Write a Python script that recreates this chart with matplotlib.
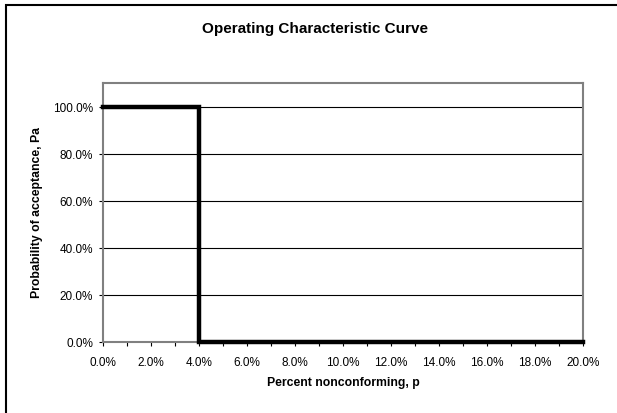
import matplotlib
matplotlib.use("Agg")
import matplotlib.pyplot as plt
from matplotlib.ticker import PercentFormatter, MultipleLocator
from matplotlib.patches import Rectangle

plt.rcParams['font.family'] = ['Liberation Sans', 'DejaVu Sans']

# OC curve data
p = [0.0, 0.04, 0.04, 0.20]
pa = [1.0, 1.0, 0.0, 0.0]

title = "Operating Characteristic Curve"
xlabel = "Percent nonconforming, p"
ylabel = "Probability of acceptance, Pa"

W, H = 617, 414
fig = plt.figure(figsize=(W / 100, H / 100), dpi=100)

# outer chart frame (right/bottom edges fall outside the image)
fig.patches.append(Rectangle((6 / W, -0.1), 1.2, 1 - 6 / H + 0.1,
                             transform=fig.transFigure, fill=False,
                             edgecolor='black', linewidth=1.5))

ax = fig.add_axes([103 / W, 1 - 343 / H, 480 / W, 259 / H])
ax.plot(p, pa, color='black', linewidth=3.2, clip_on=False, zorder=3,
        solid_joinstyle='miter')

ax.set_xlim(0, 0.20)
ax.set_ylim(0, 1.10)
ax.xaxis.set_major_locator(MultipleLocator(0.02))
ax.xaxis.set_minor_locator(MultipleLocator(0.01))
ax.yaxis.set_major_locator(MultipleLocator(0.20))
ax.xaxis.set_major_formatter(PercentFormatter(1.0, decimals=1))
ax.yaxis.set_major_formatter(PercentFormatter(1.0, decimals=1))
ax.tick_params(labelsize=8.5, length=3, width=0.8, color='black')
ax.tick_params(axis='x', which='minor', length=3, width=0.8, color='black')
ax.tick_params(axis='x', pad=7)
ax.tick_params(axis='y', pad=4)
ax.grid(axis='y', color='black', linewidth=0.8)
ax.set_axisbelow(True)

for side in ['top', 'right', 'left', 'bottom']:
    ax.spines[side].set_color('#808080')
    ax.spines[side].set_linewidth(1.5)

fig.text(315 / W, 1 - 29 / H, title, ha='center', va='center',
         fontsize=11, fontweight='bold')
fig.text(343 / W, 1 - 383 / H, xlabel, ha='center', va='center',
         fontsize=8.8, fontweight='bold')
fig.text(37 / W, 1 - 213 / H, ylabel, ha='center', va='center',
         rotation=90, fontsize=8.8, fontweight='bold')

fig.savefig("out.png", dpi=100)
